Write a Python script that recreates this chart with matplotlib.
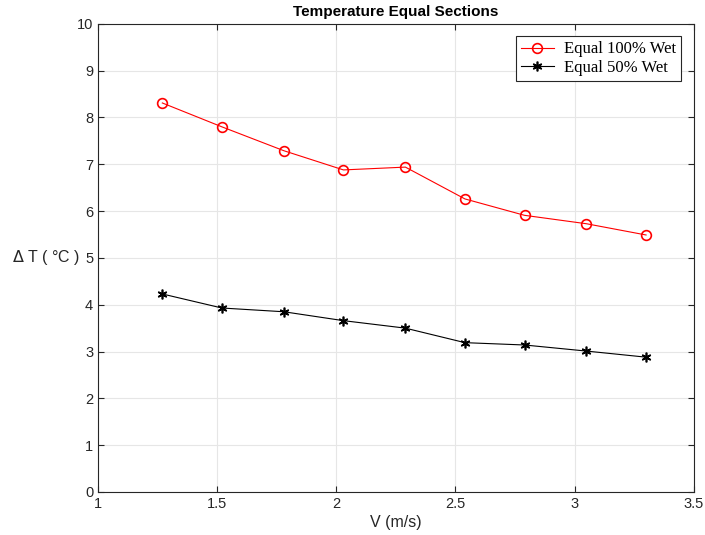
import matplotlib
matplotlib.use("Agg")
import matplotlib.pyplot as plt

plt.rcParams['font.family'] = ['Liberation Sans', 'DejaVu Sans']

# speed (m/s)
v = [1.27, 1.52, 1.78, 2.03, 2.29, 2.54, 2.79, 3.05, 3.30]
# temperature drop (deg C)
dt_100 = [8.31, 7.80, 7.29, 6.88, 6.94, 6.26, 5.91, 5.73, 5.49]
dt_50 = [4.23, 3.93, 3.85, 3.66, 3.50, 3.19, 3.14, 3.01, 2.88]

fig = plt.figure(figsize=(7.05, 5.35), dpi=100)
ax = fig.add_axes([0.139, 0.0804, 0.845, 0.875])

ax.plot(v, dt_100, color='red', marker='o', markersize=7, markerfacecolor='none',
        markeredgewidth=1.2, linewidth=0.8, label='Equal 100% Wet')
ax.plot(v, dt_50, color='black', marker=(6, 2, 0), markersize=7,
        markeredgewidth=1.2, linewidth=0.8, label='Equal 50% Wet')

ax.set_xlim(1, 3.5)
ax.set_ylim(0, 10)
ax.set_xticks([1, 1.5, 2, 2.5, 3, 3.5])
ax.set_xticklabels(['1', '1.5', '2', '2.5', '3', '3.5'])
ax.set_yticks(range(0, 11))
ax.grid(True, color='#e6e6e6', linewidth=0.8)
ax.set_axisbelow(True)
ax.tick_params(direction='in', colors='#262626', labelsize=10.5, length=4,
               top=True, right=True)
for s in ax.spines.values():
    s.set_color('#262626')
    s.set_linewidth(0.8)

ax.set_title('Temperature Equal Sections', fontsize=11, fontweight='bold')
ax.set_xlabel('V (m/s)', fontsize=11.5, color='#262626', labelpad=3)
ax.set_ylabel('$\\Delta$ T ( °C )', fontsize=11.5, color='#262626',
              rotation=0, labelpad=22, va='center')

leg = ax.legend(loc='upper right', prop={'family': 'Liberation Serif', 'size': 12},
                fancybox=False, framealpha=1, edgecolor='#262626',
                handlelength=2.0, handletextpad=0.6, borderpad=0.3,
                labelspacing=0.15, borderaxespad=0.75)
leg.get_frame().set_linewidth(0.8)

fig.savefig('out.png', dpi=100)
